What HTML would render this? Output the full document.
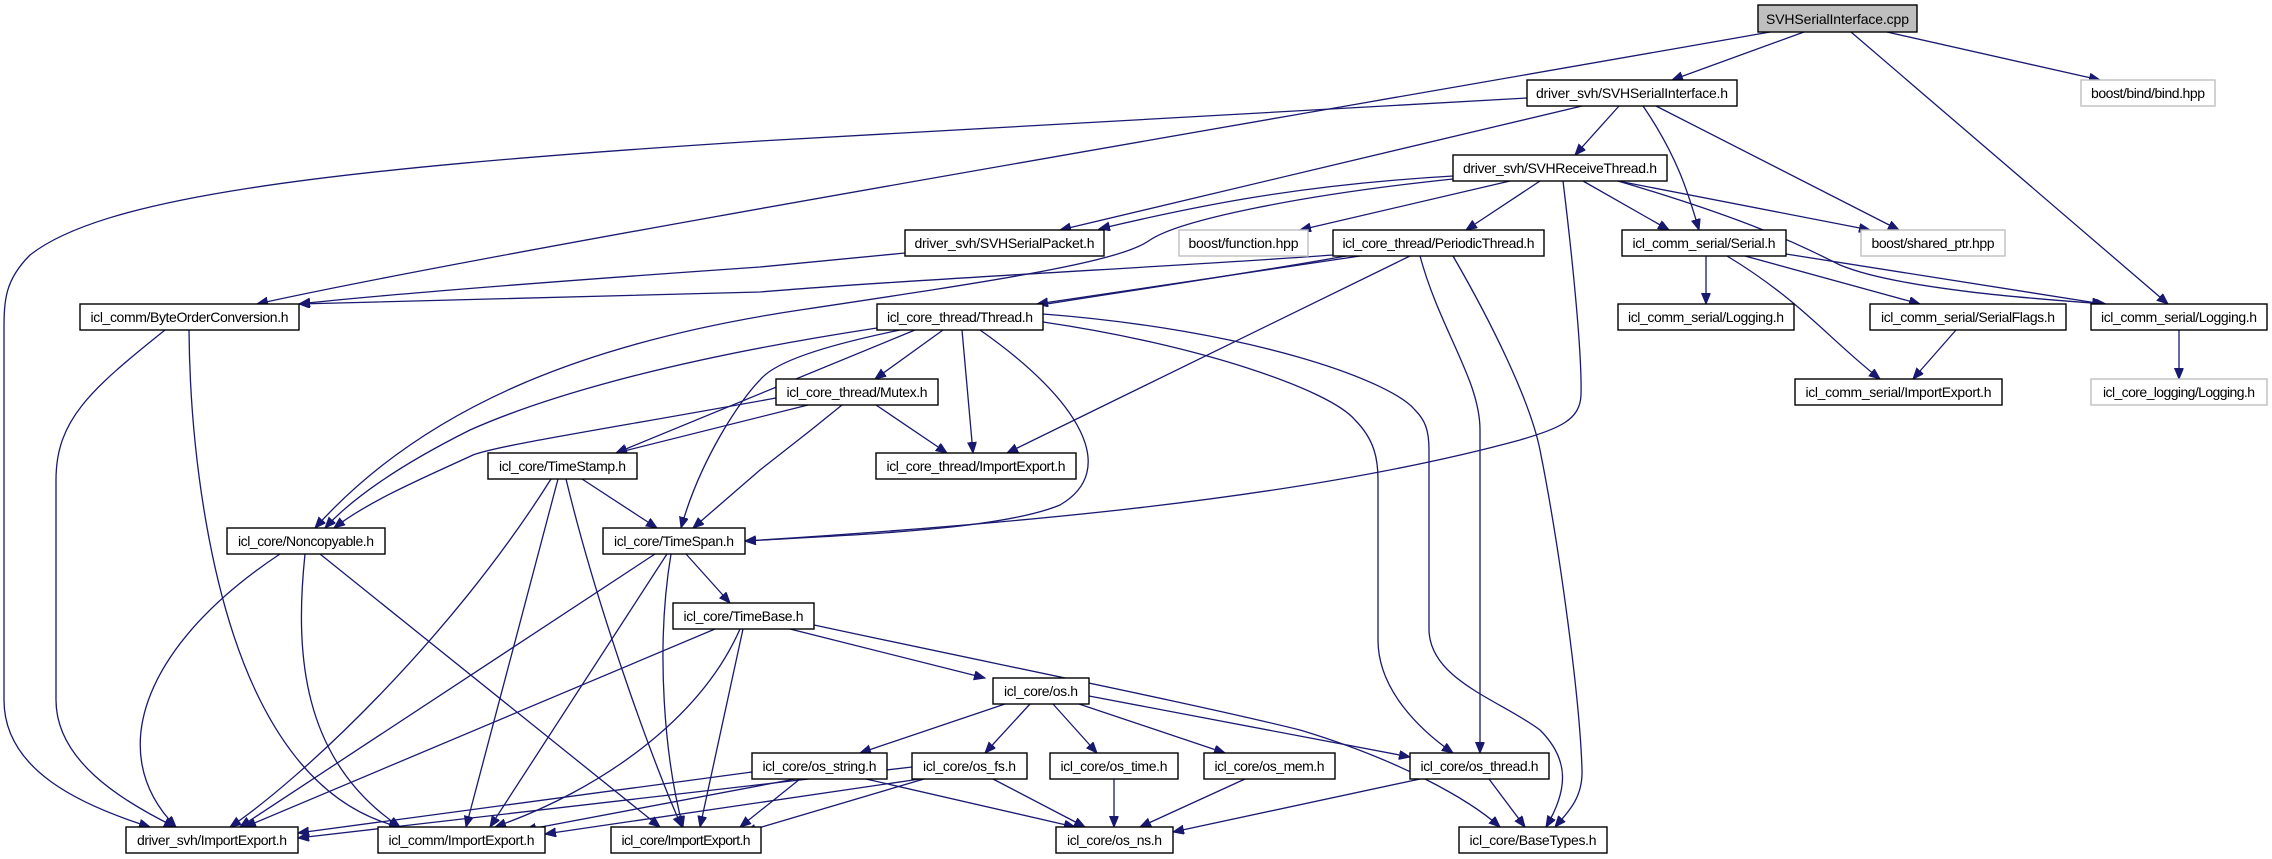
<!DOCTYPE html>
<html><head><meta charset="utf-8"><style>
html,body{margin:0;padding:0;background:#fff}
svg{display:block}
text{font-family:"Liberation Sans",sans-serif;font-size:14px;fill:#000}
.e{fill:none;stroke:#191970;stroke-width:1.3}
.n{fill:#fff;stroke:#000;stroke-width:1.4}
.g{fill:#fff;stroke:#bfbfbf;stroke-width:1.4}
</style></head><body>
<svg width="2272" height="859" viewBox="0 0 2272 859" xmlns="http://www.w3.org/2000/svg">
<defs><marker id="a" markerWidth="12" markerHeight="10" refX="11" refY="4.5" orient="auto" markerUnits="userSpaceOnUse"><path d="M0,0 L11,4.5 L0,9 z" fill="#191970" stroke="#191970"/></marker></defs>
<g class="e" marker-end="url(#a)">
<path d="M1804,32 L1672,80"/>
<path d="M1887,32 L2100,80"/>
<path d="M1851,32 L2168,304"/>
<path d="M1770,32 C1300,115 500,250 257,304"/>
<path d="M1527,98 L760,141 C300,170 100,200 30,255 C5,280 4,300 4,330 L4,700 C4,770 80,805 150,827"/>
<path d="M1582,106 L1060,230"/>
<path d="M1619,106 L1575,155"/>
<path d="M1643,106 C1680,160 1690,200 1699,230"/>
<path d="M1656,106 L1899,230"/>
<path d="M1453,176 C1300,185 1200,205 1099,229"/>
<path d="M1510,181 L1300,230"/>
<path d="M1540,181 L1466,230"/>
<path d="M1583,181 L1669,230"/>
<path d="M1618,181 L1870,230"/>
<path d="M1618,181 C1750,220 1800,245 1840,265 C1900,290 2050,300 2106,304"/>
<path d="M1563,181 C1575,280 1582,360 1581,395 C1580,420 1560,428 1520,440 C1300,500 1000,525 745,541"/>
<path d="M1453,179 C1300,195 1180,220 1150,240 C1120,262 1000,280 800,310 C600,340 430,400 315,528"/>
<path d="M905,253 L760,267 C500,285 350,298 299,304"/>
<path d="M1333,255 C1200,265 900,280 760,292 L299,304"/>
<path d="M1360,256 L1037,304"/>
<path d="M1346,256 C1100,300 800,330 760,380 C740,400 700,460 681,528"/>
<path d="M1412,255 L1007,453"/>
<path d="M1420,256 C1440,330 1480,380 1480,430 L1480,753"/>
<path d="M1453,256 C1490,320 1530,400 1540,450 C1560,550 1580,700 1582,770 C1583,800 1565,815 1555,827"/>
<path d="M1706,256 L1706,304"/>
<path d="M1745,256 L1920,304"/>
<path d="M1727,256 C1800,300 1830,340 1880,379"/>
<path d="M1786,254 L2103,304"/>
<path d="M1956,330 L1913,379"/>
<path d="M2179,330 L2179,379"/>
<path d="M165,330 C90,390 56,420 56,480 L56,700 C56,760 120,800 175,827"/>
<path d="M189,330 C190,450 210,600 260,700 C300,780 350,815 400,827"/>
<path d="M943,330 L875,379"/>
<path d="M915,330 L616,453"/>
<path d="M877,328 C700,355 560,390 470,430 C420,455 360,490 325,528"/>
<path d="M962,330 L973,453"/>
<path d="M980,330 C1080,400 1120,470 1060,505 C1000,530 850,535 745,541"/>
<path d="M1043,322 C1200,345 1330,390 1355,420 C1375,440 1378,460 1378,480 L1378,640 C1378,690 1420,730 1453,753"/>
<path d="M1043,314 C1250,330 1390,380 1415,410 C1425,420 1429,430 1429,450 L1429,630 C1430,680 1500,700 1540,730 C1570,760 1568,790 1546,827"/>
<path d="M776,398 C600,430 500,445 473,455 C430,475 370,500 334,528"/>
<path d="M808,405 L616,453"/>
<path d="M842,405 L811,430 L760,470 L693,528"/>
<path d="M876,405 L947,453"/>
<path d="M582,479 L657,528"/>
<path d="M551,479 C450,640 300,780 230,827"/>
<path d="M558,479 L466,827"/>
<path d="M566,479 C600,620 660,780 682,827"/>
<path d="M280,554 C150,640 100,750 176,827"/>
<path d="M305,554 C295,650 300,760 400,827"/>
<path d="M320,554 L660,827"/>
<path d="M686,554 L730,603"/>
<path d="M655,554 L240,827"/>
<path d="M667,554 L490,827"/>
<path d="M671,554 C655,650 665,760 683,827"/>
<path d="M790,629 L985,678"/>
<path d="M814,625 C1000,665 1200,705 1300,730 C1400,760 1470,800 1500,827"/>
<path d="M715,629 L245,827"/>
<path d="M740,629 C700,720 600,790 495,827"/>
<path d="M743,629 L700,827"/>
<path d="M1005,704 L860,753"/>
<path d="M1030,704 L985,753"/>
<path d="M1053,704 L1097,753"/>
<path d="M1079,704 L1225,753"/>
<path d="M1089,696 L1410,757"/>
<path d="M752,772 L298,833"/>
<path d="M795,779 L525,830"/>
<path d="M800,779 L740,827"/>
<path d="M866,779 L1075,827"/>
<path d="M912,767 L298,838"/>
<path d="M920,779 L545,834"/>
<path d="M924,779 L745,832"/>
<path d="M993,779 L1085,827"/>
<path d="M1114,779 L1114,827"/>
<path d="M1245,779 L1140,827"/>
<path d="M1420,779 L1173,832"/>
<path d="M1489,779 L1525,827"/>
</g>
<g>
<rect x="1758" y="5" width="159" height="27" fill="#bfbfbf" stroke="#000" stroke-width="1.4"/><text x="1837.5" y="24" text-anchor="middle" textLength="143">SVHSerialInterface.cpp</text>
<rect class="n" x="1527" y="80" width="210" height="26"/><text x="1632" y="98" text-anchor="middle" textLength="192">driver_svh/SVHSerialInterface.h</text>
<rect class="g" x="2081" y="80" width="134" height="26"/><text x="2148" y="98" text-anchor="middle" textLength="114">boost/bind/bind.hpp</text>
<rect class="n" x="1453" y="155" width="214" height="26"/><text x="1560" y="173" text-anchor="middle" textLength="194">driver_svh/SVHReceiveThread.h</text>
<rect class="n" x="905" y="230" width="199" height="26"/><text x="1004.5" y="248" text-anchor="middle" textLength="180">driver_svh/SVHSerialPacket.h</text>
<rect class="g" x="1179" y="230" width="129" height="26"/><text x="1243.5" y="248" text-anchor="middle" textLength="110">boost/function.hpp</text>
<rect class="n" x="1333" y="230" width="211" height="26"/><text x="1438.5" y="248" text-anchor="middle" textLength="192">icl_core_thread/PeriodicThread.h</text>
<rect class="n" x="1622" y="230" width="164" height="26"/><text x="1704" y="248" text-anchor="middle" textLength="143">icl_comm_serial/Serial.h</text>
<rect class="g" x="1861" y="230" width="144" height="26"/><text x="1933" y="248" text-anchor="middle" textLength="123">boost/shared_ptr.hpp</text>
<rect class="n" x="80" y="304" width="219" height="26"/><text x="189.5" y="322" text-anchor="middle" textLength="198">icl_comm/ByteOrderConversion.h</text>
<rect class="n" x="877" y="304" width="166" height="26"/><text x="960" y="322" text-anchor="middle" textLength="146">icl_core_thread/Thread.h</text>
<rect class="n" x="1618" y="304" width="176" height="26"/><text x="1706" y="322" text-anchor="middle" textLength="156">icl_comm_serial/Logging.h</text>
<rect class="n" x="1870" y="304" width="196" height="26"/><text x="1968" y="322" text-anchor="middle" textLength="174">icl_comm_serial/SerialFlags.h</text>
<rect class="n" x="2091" y="304" width="176" height="26"/><text x="2179" y="322" text-anchor="middle" textLength="156">icl_comm_serial/Logging.h</text>
<rect class="n" x="776" y="379" width="162" height="26"/><text x="857" y="397" text-anchor="middle" textLength="141">icl_core_thread/Mutex.h</text>
<rect class="n" x="1795" y="379" width="207" height="26"/><text x="1898.5" y="397" text-anchor="middle" textLength="186">icl_comm_serial/ImportExport.h</text>
<rect class="g" x="2091" y="379" width="176" height="26"/><text x="2179" y="397" text-anchor="middle" textLength="152">icl_core_logging/Logging.h</text>
<rect class="n" x="488" y="453" width="149" height="26"/><text x="562.5" y="471" text-anchor="middle" textLength="127">icl_core/TimeStamp.h</text>
<rect class="n" x="876" y="453" width="200" height="26"/><text x="976" y="471" text-anchor="middle" textLength="179">icl_core_thread/ImportExport.h</text>
<rect class="n" x="227" y="528" width="158" height="26"/><text x="306" y="546" text-anchor="middle" textLength="136">icl_core/Noncopyable.h</text>
<rect class="n" x="603" y="528" width="142" height="26"/><text x="674" y="546" text-anchor="middle" textLength="120">icl_core/TimeSpan.h</text>
<rect class="n" x="673" y="603" width="141" height="26"/><text x="743.5" y="621" text-anchor="middle" textLength="120">icl_core/TimeBase.h</text>
<rect class="n" x="993" y="678" width="96" height="26"/><text x="1041" y="696" text-anchor="middle" textLength="74">icl_core/os.h</text>
<rect class="n" x="752" y="753" width="135" height="26"/><text x="819.5" y="771" text-anchor="middle" textLength="114">icl_core/os_string.h</text>
<rect class="n" x="912" y="753" width="115" height="26"/><text x="969.5" y="771" text-anchor="middle" textLength="93">icl_core/os_fs.h</text>
<rect class="n" x="1050" y="753" width="128" height="26"/><text x="1114" y="771" text-anchor="middle" textLength="107">icl_core/os_time.h</text>
<rect class="n" x="1204" y="753" width="131" height="26"/><text x="1269.5" y="771" text-anchor="middle" textLength="110">icl_core/os_mem.h</text>
<rect class="n" x="1410" y="753" width="139" height="26"/><text x="1479.5" y="771" text-anchor="middle" textLength="118">icl_core/os_thread.h</text>
<rect class="n" x="126" y="827" width="172" height="26"/><text x="212" y="845" text-anchor="middle" textLength="150">driver_svh/ImportExport.h</text>
<rect class="n" x="378" y="827" width="167" height="26"/><text x="461.5" y="845" text-anchor="middle" textLength="146">icl_comm/ImportExport.h</text>
<rect class="n" x="611" y="827" width="150" height="26"/><text x="686" y="845" text-anchor="middle" textLength="129">icl_core/ImportExport.h</text>
<rect class="n" x="1056" y="827" width="117" height="26"/><text x="1114.5" y="845" text-anchor="middle" textLength="95">icl_core/os_ns.h</text>
<rect class="n" x="1459" y="827" width="148" height="26"/><text x="1533" y="845" text-anchor="middle" textLength="127">icl_core/BaseTypes.h</text>
</g>
</svg>
</body></html>
